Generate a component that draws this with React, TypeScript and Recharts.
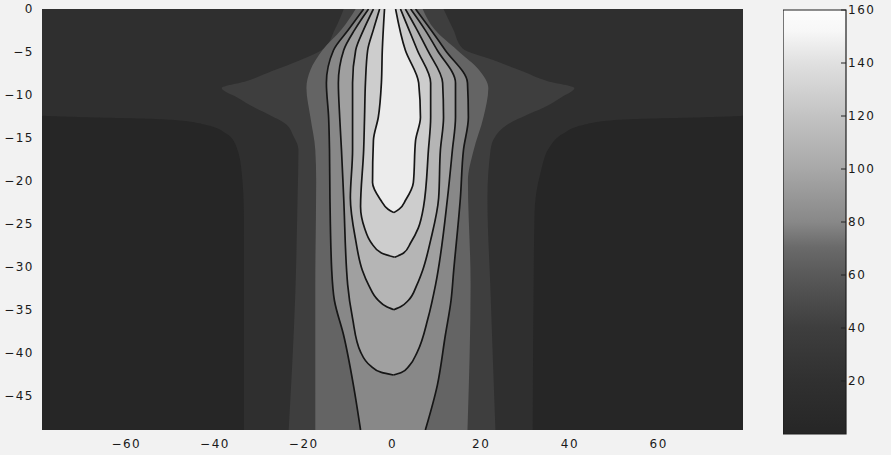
import { ComposedChart, Area, XAxis, YAxis, BarChart, Bar } from "recharts";

// each row: [depth, left edge, right edge] of a filled contour band
type Row = [number, number, number];

const xTicks = [-60, -40, -20, 0, 20, 40, 60];
const depthTicks = [0, -5, -10, -15, -20, -25, -30, -35, -40, -45];
const scaleTicks = [20, 40, 60, 80, 100, 120, 140, 160];
const scaleMax = 160;

const band0: Row[] = [
  [0, -79, 79],
  [-49, -79, 79],
];

const band1: Row[] = [
  [0, -79, 79],
  [-12.4, -79, 79],
  [-12.9, -50, 51],
  [-13.5, -42, 43],
  [-14.5, -37.5, 38.5],
  [-16, -35.2, 35.5],
  [-19, -34, 33.4],
  [-24, -33.5, 32],
  [-49, -33.5, 31.6],
];

const band2: Row[] = [
  [0, -11, 11.5],
  [-2.4, -13, 13.7],
  [-4.6, -15.5, 15.8],
  [-6, -21, 23],
  [-7.2, -27, 29],
  [-8.4, -33, 35],
  [-9.2, -38.5, 41],
  [-10.3, -35, 38],
  [-11.5, -31, 34],
  [-12.4, -27.5, 30],
  [-13.3, -24.3, 26.4],
  [-14.8, -22.3, 23.2],
  [-16.4, -21.2, 22.1],
  [-22, -21.4, 21.4],
  [-33, -21.9, 22.1],
  [-49, -23.4, 23.2],
];

const band3: Row[] = [
  [0, -8.3, 6.8],
  [-2.4, -11.5, 9.5],
  [-4.8, -15.8, 14.6],
  [-7.1, -18.5, 19.5],
  [-9.2, -19.4, 21.6],
  [-12.6, -18.5, 20.5],
  [-16.4, -17.4, 18.3],
  [-20, -17.2, 17],
  [-32, -17.4, 17.6],
  [-49, -17.4, 16.9],
];

const band4: Row[] = [
  [0, -6.5, 5.2],
  [-2.4, -9.9, 8.6],
  [-4.8, -13.3, 11.9],
  [-8.6, -14.9, 16.9],
  [-12.6, -14.4, 17.1],
  [-16.4, -14.2, 16],
  [-22, -14.1, 15.3],
  [-30.4, -13.7, 13.8],
  [-33.9, -13.1, 13.2],
  [-38, -11, 11.9],
  [-43.8, -8.8, 10.1],
  [-49, -7.2, 7.4],
];

const band5: Row[] = [
  [0, -5.4, 4.1],
  [-2.4, -8.5, 7.3],
  [-4.8, -11, 10.1],
  [-8.6, -12.2, 14.2],
  [-12.6, -11.9, 14.2],
  [-16.4, -11.5, 13.5],
  [-22, -11, 12.4],
  [-32.1, -10.1, 9.7],
  [-36, -9, 8],
  [-39.9, -7.2, 5.6],
  [-41.5, -5, 3.8],
  [-42.3, -2.5, 2],
  [-42.6, 0.2, 0.2],
];

const band6: Row[] = [
  [0, -4.3, 2.9],
  [-2.4, -6.5, 5.5],
  [-4.8, -8.3, 7.9],
  [-8.6, -9, 11.3],
  [-12.6, -9, 11.5],
  [-16.4, -9, 10.8],
  [-22, -9.5, 10.4],
  [-26.9, -8.3, 8.6],
  [-30.4, -6.8, 6.8],
  [-32.1, -5.4, 5.5],
  [-33.9, -3.2, 3.6],
  [-34.6, -1.5, 2],
  [-35, 0.3, 0.3],
];

const band7: Row[] = [
  [0, -2.9, 1.8],
  [-2.4, -4.3, 3.7],
  [-4.8, -5.6, 5.6],
  [-8.6, -6.1, 8.6],
  [-12.6, -6.3, 8.6],
  [-16.4, -6.5, 8.1],
  [-23, -7.2, 7],
  [-25.5, -6.3, 5.8],
  [-27.2, -4.8, 4.1],
  [-28.4, -2.5, 2.5],
  [-28.9, 0.5, 0.5],
];

const band8: Row[] = [
  [0, -1.8, 0.7],
  [-4.8, -2.3, 2.9],
  [-8.6, -2.5, 5.9],
  [-12.6, -3.2, 6.3],
  [-15.3, -4.3, 5.2],
  [-20.2, -4.5, 4.7],
  [-22.2, -2.7, 3],
  [-23.3, -1, 1.5],
  [-23.7, 0.3, 0.3],
];

const bands = [band0, band1, band2, band3, band4, band5, band6, band7, band8];
const bandFills = ["#262626", "#2f2f2f", "#3e3e3e", "#646464", "#888888", "#a0a0a0", "#b5b5b5", "#cdcdcd", "#ececec"];
const firstLined = 4; // contour lines are drawn from this band inward

const toData = (rows: Row[]) => rows.map(([y, l, r]) => ({ y, x: [l, r] }));
const minus = (v: number) => String(v).replace("-", "\u2212");

const tickStyle = { fontSize: 12, fill: "#1a1a1a", letterSpacing: 1.5 };

export default function App() {
  return (
    <div
      style={{
        position: "absolute",
        left: 0,
        top: 0,
        width: 891,
        height: 455,
        background: "#f2f2f2",
        fontFamily: "'DejaVu Sans', sans-serif",
      }}
    >
      <div style={{ position: "absolute", left: 0, top: 0 }}>
        <ComposedChart
          width={760}
          height={455}
          layout="vertical"
          margin={{ top: 9, right: 17, bottom: 0, left: 0 }}
        >
          <XAxis
            type="number"
            dataKey="x"
            domain={[-79, 79]}
            ticks={xTicks}
            tickFormatter={minus}
            allowDataOverflow
            axisLine={false}
            tickLine={false}
            tickSize={0}
            tickMargin={9}
            height={25}
            tick={tickStyle}
          />
          <YAxis
            type="number"
            dataKey="y"
            domain={[-49, 0]}
            ticks={depthTicks}
            tickFormatter={minus}
            reversed
            allowDataOverflow
            axisLine={false}
            tickLine={false}
            tickSize={0}
            tickMargin={8}
            width={42}
            tick={tickStyle}
          />
          {bands.map((rows, i) => (
            <Area
              key={i}
              data={toData(rows)}
              dataKey="x"
              type="monotone"
              fill={bandFills[i]}
              fillOpacity={1}
              stroke={i >= firstLined ? "#161616" : "none"}
              strokeWidth={1.7}
              dot={false}
              activeDot={false}
              isAnimationActive={false}
            />
          ))}
        </ComposedChart>
      </div>
      <div style={{ position: "absolute", left: 783, top: 0 }}>
        <BarChart
          width={108}
          height={455}
          data={[{ name: "scale", v: scaleMax }]}
          margin={{ top: 10, right: 0, bottom: 21, left: 0 }}
          barCategoryGap={0}
        >
          <defs>
            <linearGradient id="grayScale" x1="0" y1="1" x2="0" y2="0">
              <stop offset="0" stopColor="#262626" />
              <stop offset="0.125" stopColor="#303030" />
              <stop offset="0.25" stopColor="#3e3e3e" />
              <stop offset="0.375" stopColor="#595959" />
              <stop offset="0.44" stopColor="#6a6a6a" />
              <stop offset="0.5" stopColor="#888888" />
              <stop offset="0.625" stopColor="#a8a8a8" />
              <stop offset="0.75" stopColor="#c3c3c3" />
              <stop offset="0.875" stopColor="#e0e0e0" />
              <stop offset="0.95" stopColor="#f7f7f7" />
              <stop offset="1" stopColor="#fcfcfc" />
            </linearGradient>
          </defs>
          <XAxis dataKey="name" hide />
          <Bar
            yAxisId="r"
            dataKey="v"
            fill="url(#grayScale)"
            stroke="#1e1e1e"
            strokeWidth={1.2}
            isAnimationActive={false}
          />
          <YAxis
            yAxisId="r"
            orientation="right"
            type="number"
            domain={[0, scaleMax]}
            ticks={scaleTicks}
            axisLine={false}
            tickSize={-5}
            tickMargin={7}
            tickLine={{ stroke: "#222" }}
            width={45}
            tick={{ ...tickStyle, textAnchor: "start" }}
          />
          <YAxis
            yAxisId="l"
            orientation="left"
            type="number"
            domain={[0, scaleMax]}
            ticks={scaleTicks}
            axisLine={false}
            tickSize={-5}
            tickLine={{ stroke: "#222" }}
            width={0}
            tick={{ fontSize: 0 }}
          />
        </BarChart>
      </div>
    </div>
  );
}
